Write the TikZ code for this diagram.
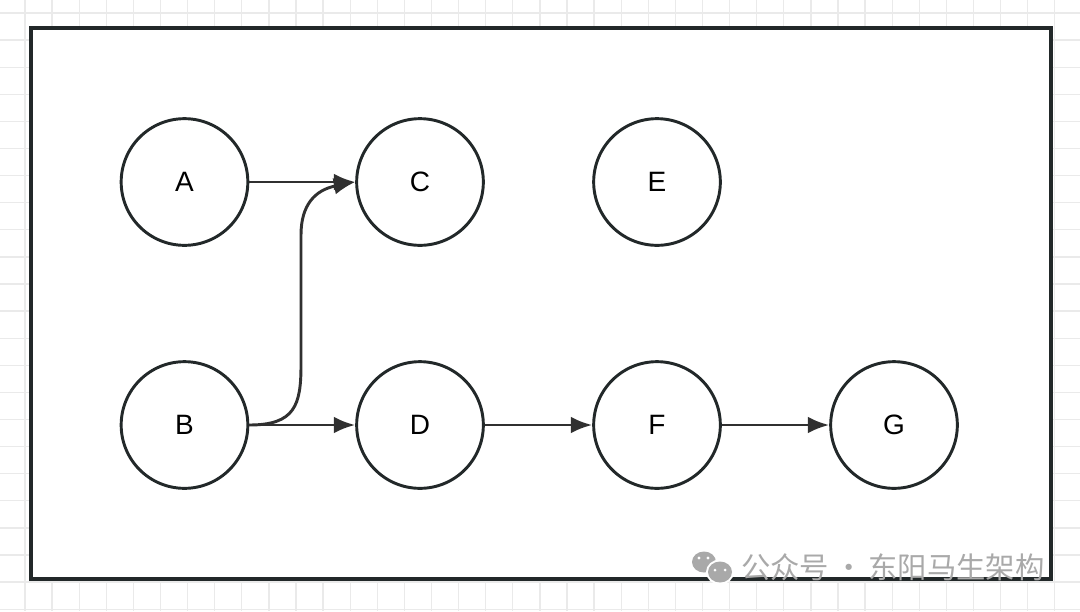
\documentclass[tikz,border=0pt]{standalone}
\usepackage{fontspec}
\setmainfont{Liberation Sans}
\newfontfamily\cjk{Noto Sans CJK SC}
\usetikzlibrary{arrows.meta}
\definecolor{ink}{HTML}{222829}
\definecolor{arr}{HTML}{303030}
\definecolor{gridc}{HTML}{EAEAEA}
\definecolor{wm}{HTML}{A9A9A9}
\begin{document}
\begin{tikzpicture}[x=0.75pt,y=-0.75pt,
  vtx/.style={circle,draw=ink,line width=2.2pt,minimum size=95pt,inner sep=0pt,font=\fontsize{21}{24}\selectfont,fill=white},
  edge/.style={draw=arr,line width=2.2pt,-{Latex[length=16pt,width=12.5pt]}}]
\useasboundingbox (0,0) rectangle (1080,611);
\fill[white] (0,0) rectangle (1080,611);
% grid
\foreach \i in {0,...,39} {\draw[gridc,line width=1pt] ({25+27.1*\i},0) -- ({25+27.1*\i},611);}
\foreach \j in {0,...,22} {\draw[gridc,line width=1pt] (0,{13+27.1*\j}) -- (1080,{13+27.1*\j});}
% frame
\draw[ink,line width=2.4pt,fill=white] (31,28) rectangle (1051,579);
% nodes
\node[vtx] (A) at (184.5,182) {A};
\node[vtx] (C) at (420,182) {C};
\node[vtx] (E) at (657,182) {E};
\node[vtx] (B) at (184.5,425) {B};
\node[vtx] (D) at (420,425) {D};
\node[vtx] (F) at (657,425) {F};
\node[vtx] (G) at (894,425) {G};
% edges
\draw[edge] (A.east) -- (C.west);
\draw[edge] (B.east) -- (D.west);
\draw[edge] (D.east) -- (F.west);
\draw[edge] (F.east) -- (G.west);
\draw[edge] (B.east) .. controls (295,425) and (301,405) .. (301,365) -- (301,235) .. controls (301,205) and (315,190) .. (C.west);
% watermark
\node[font=\cjk\fontsize{22}{24}\selectfont,text=wm,anchor=west,inner sep=0pt] (wmt) at (741,567) {公众号{\,}·{\,}东阳马生架构};
\fill[wm] (704,562) ellipse (12 and 10.5);
\fill[white] (720,572) ellipse (14 and 12.5);
\fill[wm] (720,572) ellipse (12 and 10.5);
\fill[white] (699,558) circle (1.6) (708,558) circle (1.6);
\fill[white] (715,570) circle (1.5) (725,570) circle (1.5);
\end{tikzpicture}
\end{document}
